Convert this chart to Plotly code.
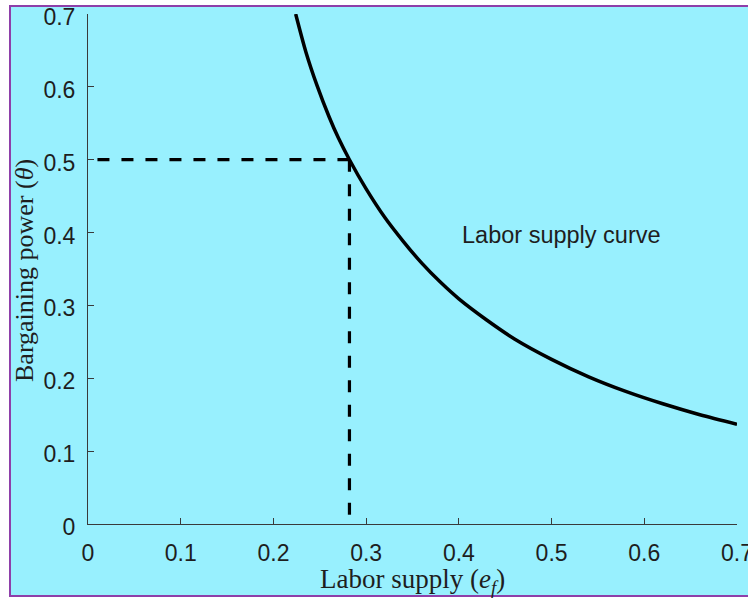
import plotly.graph_objects as go

# Labor supply curve
supply_x = [0.224, 0.235, 0.247, 0.260, 0.270, 0.282, 0.300, 0.320, 0.340, 0.360,
            0.380, 0.400, 0.430, 0.460, 0.500, 0.540, 0.580, 0.620, 0.660, 0.700]
supply_y = [0.700, 0.648, 0.602, 0.559, 0.530, 0.500, 0.460, 0.421, 0.388, 0.358,
            0.332, 0.309, 0.280, 0.254, 0.226, 0.202, 0.182, 0.165, 0.150, 0.137]

# equilibrium point guides
eq_x = 0.282
eq_y = 0.5
hline_x = [eq_x, 0.0]
hline_y = [eq_y, eq_y]
vline_x = [eq_x, eq_x]
vline_y = [eq_y, 0.0]

tick_vals = [0, 0.1, 0.2, 0.3, 0.4, 0.5, 0.6, 0.7]
tick_text = ["0", "0.1", "0.2", "0.3", "0.4", "0.5", "0.6", "0.7"]

BG = "#98F0FE"
BORDER = "#8E3FA9"
AXC = "#3a3a3a"
TXT = "#1e1e1e"

fig = go.Figure()
fig.add_trace(go.Scatter(x=supply_x, y=supply_y, mode="lines",
                         line=dict(color="black", width=3.5, shape="spline", smoothing=0.8),
                         showlegend=False, hoverinfo="skip"))
fig.add_trace(go.Scatter(x=hline_x, y=hline_y, mode="lines",
                         line=dict(color="black", width=3.2, dash="12px,12px"),
                         showlegend=False, hoverinfo="skip"))
fig.add_trace(go.Scatter(x=vline_x, y=vline_y, mode="lines",
                         line=dict(color="black", width=3.2, dash="12px,12.5px"),
                         showlegend=False, hoverinfo="skip"))

W, H = 748, 598
ml, mr, mt, mb = 88, 11, 14, 74
pw, ph = W - ml - mr, H - mt - mb

def px_x(p):
    return (p - ml) / pw

def px_y(p):
    return (H - mb - p) / ph

axis_common = dict(
    range=[0, 0.7], showline=True, linecolor=AXC, linewidth=1,
    ticks="inside", ticklen=6, tickwidth=1, tickcolor=AXC,
    tickvals=tick_vals, ticktext=tick_text,
    showgrid=False, zeroline=False, mirror=False,
    ticklabeloverflow="allow", automargin=False,
    tickfont=dict(family="Liberation Sans, Arial, sans-serif", size=23, color=TXT),
)

fig.update_layout(
    width=W, height=H,
    margin=dict(l=ml, r=mr, t=mt, b=mb, pad=0, autoexpand=False),
    paper_bgcolor="white",
    plot_bgcolor="rgba(0,0,0,0)",
    xaxis=dict(**axis_common, ticklabelstandoff=8),
    yaxis=dict(**axis_common, ticklabelstandoff=7, ticklabelshift=3),
    shapes=[dict(type="rect", xref="paper", yref="paper",
                 x0=px_x(10), x1=px_x(770), y0=px_y(596), y1=px_y(6),
                 fillcolor=BG, line=dict(color=BORDER, width=2), layer="below")],
    annotations=[
        dict(text="Labor supply curve", x=0.401, y=0.397, xref="x", yref="y",
             xanchor="left", yanchor="middle", showarrow=False,
             font=dict(family="Liberation Sans, Arial, sans-serif", size=23.5, color=TXT)),
        dict(text="Labor supply (<i>e</i><sub><i>f</i></sub>)", x=px_x(412), y=px_y(581),
             xref="paper", yref="paper", xanchor="center", yanchor="middle",
             showarrow=False,
             font=dict(family="Liberation Serif, Times New Roman, serif", size=27, color=TXT)),
        dict(text="Bargaining power (<i>θ</i>)", x=px_x(24), y=px_y(271),
             xref="paper", yref="paper", xanchor="center", yanchor="middle",
             textangle=-90, showarrow=False,
             font=dict(family="Liberation Serif, Times New Roman, serif", size=26, color=TXT)),
    ],
)

fig.write_html("out.html")
